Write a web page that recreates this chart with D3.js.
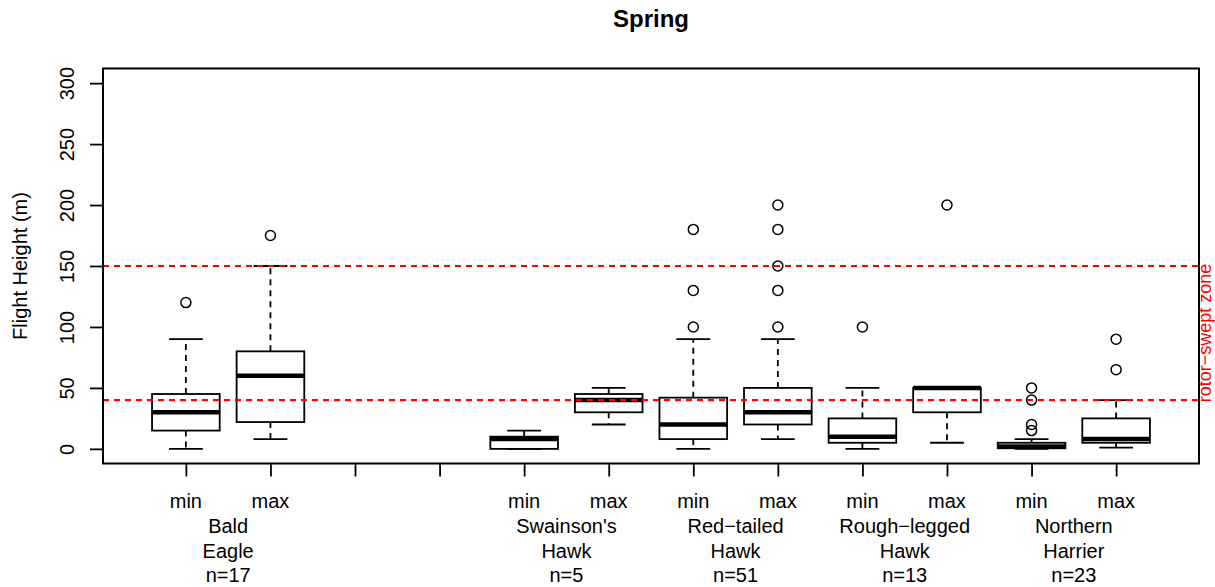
<!DOCTYPE html>
<meta charset="utf-8">
<style>
  body { margin: 0; background: #fff; }
  text { font-family: "Liberation Sans", Arial, sans-serif; }
</style>
<script src="https://d3js.org/d3.v7.min.js"></script>
<div id="chart"></div>
<script>

// box order: min/max pairs, slots 3-4 are an empty species
var boxKinds = ["min", "max", "", "", "min", "max", "min", "max", "min", "max", "min", "max"];
var speciesNames = [["Bald", "Eagle"], [], ["Swainson's", "Hawk"], ["Red\u2212tailed", "Hawk"],
                    ["Rough\u2212legged", "Hawk"], ["Northern", "Harrier"]];
var sampleSizes = [17, null, 5, 51, 13, 23];

// five-number summaries (m)
var lowerWhisker = [0, 8, null, null, 0, 20, 0, 8, 0, 5, 0, 1];
var q1           = [15, 22, null, null, 0, 30, 8, 20, 5, 30, 0.5, 5];
var median       = [30, 60, null, null, 8, 40, 20, 30, 10, 50, 2, 8];
var q3           = [45, 80, null, null, 10, 45, 42, 50, 25, 50, 5, 25];
var upperWhisker = [90, 150, null, null, 15, 50, 90, 90, 50, 50, 8, 40];
var outliers     = [[120], [175], [], [], [], [], [100, 130, 180], [100, 130, 150, 180, 200],
                    [100], [200], [15, 20, 40, 50], [65, 90]];

var zoneLimits = [40, 150];
var yTicks = [0, 50, 100, 150, 200, 250, 300];

var W = 1215, H = 587;
var plot = {left: 103, right: 1199, top: 68.5, bottom: 463.5};

var svg = d3.select("#chart").append("svg")
    .attr("width", W)
    .attr("height", H);

var x = d3.scaleLinear()
  .domain([0.02, 12.98])
  .range([plot.left, plot.right]);

var y = d3.scaleLinear()
  .domain([-12, 312])
  .range([plot.bottom, plot.top]);

var step = x(2) - x(1);
var boxW = step * 0.8;
var stapleW = boxW * 0.5;

// boxes
var boxes = boxKinds.map(function(k, i) {
  return {pos: i + 1, lw: lowerWhisker[i], q1: q1[i], med: median[i], q3: q3[i], uw: upperWhisker[i], out: outliers[i]};
}).filter(function(d) { return d.med !== null; });

var g = svg.append("g");

var b = g.selectAll(".box").data(boxes).enter().append("g").attr("class", "box");

// whiskers (dashed)
b.append("line")
  .attr("x1", function(d) { return x(d.pos); })
  .attr("x2", function(d) { return x(d.pos); })
  .attr("y1", function(d) { return y(d.q3); })
  .attr("y2", function(d) { return y(d.uw); })
  .attr("stroke", "#000").attr("stroke-width", 1.8).attr("stroke-dasharray", "6,5");
b.append("line")
  .attr("x1", function(d) { return x(d.pos); })
  .attr("x2", function(d) { return x(d.pos); })
  .attr("y1", function(d) { return y(d.q1); })
  .attr("y2", function(d) { return y(d.lw); })
  .attr("stroke", "#000").attr("stroke-width", 1.8).attr("stroke-dasharray", "6,5");

// staples
["uw", "lw"].forEach(function(key) {
  b.append("line")
    .attr("x1", function(d) { return x(d.pos) - stapleW / 2; })
    .attr("x2", function(d) { return x(d.pos) + stapleW / 2; })
    .attr("y1", function(d) { return y(d[key]); })
    .attr("y2", function(d) { return y(d[key]); })
    .attr("stroke", "#000").attr("stroke-width", 1.8);
});

// box
b.append("rect")
  .attr("x", function(d) { return x(d.pos) - boxW / 2; })
  .attr("width", boxW)
  .attr("y", function(d) { return y(d.q3); })
  .attr("height", function(d) { return y(d.q1) - y(d.q3); })
  .attr("fill", "none").attr("stroke", "#000").attr("stroke-width", 1.8);

// median
b.append("line")
  .attr("x1", function(d) { return x(d.pos) - boxW / 2; })
  .attr("x2", function(d) { return x(d.pos) + boxW / 2; })
  .attr("y1", function(d) { return y(d.med); })
  .attr("y2", function(d) { return y(d.med); })
  .attr("stroke", "#000").attr("stroke-width", 4.5);

// outliers
b.selectAll("circle")
  .data(function(d) { return d.out.map(function(v) { return {pos: d.pos, v: v}; }); })
  .enter().append("circle")
  .attr("cx", function(d) { return x(d.pos); })
  .attr("cy", function(d) { return y(d.v); })
  .attr("r", 5)
  .attr("fill", "none").attr("stroke", "#000").attr("stroke-width", 1.5);

// rotor-swept zone lines
svg.selectAll(".zone").data(zoneLimits).enter().append("line")
  .attr("x1", plot.left).attr("x2", plot.right)
  .attr("y1", function(d) { return y(d); })
  .attr("y2", function(d) { return y(d); })
  .attr("stroke", "#ff0000").attr("stroke-width", 2.2).attr("stroke-dasharray", "6,5");

// frame
svg.append("rect")
  .attr("x", plot.left).attr("y", plot.top)
  .attr("width", plot.right - plot.left).attr("height", plot.bottom - plot.top)
  .attr("fill", "none").attr("stroke", "#000").attr("stroke-width", 2);

// y axis
var yAxis = svg.append("g")
  .attr("transform", "translate(" + plot.left + ",0)")
  .call(d3.axisLeft(y).tickValues(yTicks).tickSize(13).tickSizeOuter(0));
yAxis.select(".domain").remove();
yAxis.selectAll("line").attr("stroke-width", 1.8);
yAxis.selectAll("text")
  .attr("transform", "rotate(-90)")
  .attr("x", 0).attr("y", -29).attr("dy", 0)
  .attr("text-anchor", "middle")
  .style("font-size", "20px").style("font-family", "Liberation Sans, Arial, sans-serif")
  .attr("fill", "#000");

svg.append("text")
  .attr("transform", "translate(27," + ((plot.top + plot.bottom) / 2) + ") rotate(-90)")
  .attr("text-anchor", "middle")
  .style("font-size", "20px")
  .text("Flight Height (m)");

// x axis
var xAxis = svg.append("g")
  .attr("transform", "translate(0," + plot.bottom + ")")
  .call(d3.axisBottom(x).tickValues(d3.range(1, 13)).tickSize(13).tickSizeOuter(0).tickFormat(""));
xAxis.select(".domain").remove();
xAxis.selectAll("line").attr("stroke-width", 1.8);

svg.selectAll(".kind").data(boxKinds).enter().append("text")
  .attr("x", function(d, i) { return x(i + 1); })
  .attr("y", 508)
  .attr("text-anchor", "middle")
  .style("font-size", "20px")
  .text(function(d) { return d; });

speciesNames.forEach(function(lines, gi) {
  var cx = (x(gi * 2 + 1) + x(gi * 2 + 2)) / 2;
  var all = lines.slice();
  if (sampleSizes[gi] !== null) all.push("n=" + sampleSizes[gi]);
  all.forEach(function(t, li) {
    svg.append("text")
      .attr("x", cx)
      .attr("y", 533 + li * 24.5)
      .attr("text-anchor", "middle")
      .style("font-size", "20px")
      .text(t);
  });
});

// title
svg.append("text")
  .attr("x", (plot.left + plot.right) / 2)
  .attr("y", 27)
  .attr("text-anchor", "middle")
  .style("font-size", "24px").style("font-weight", "bold")
  .text("Spring");

// zone label on the right margin
svg.append("text")
  .attr("transform", "translate(1210.5," + y(d3.mean(zoneLimits)) + ") rotate(-90)")
  .attr("text-anchor", "middle")
  .attr("fill", "#ff0000")
  .style("font-size", "18px")
  .text("rotor\u2212swept zone");

</script>
